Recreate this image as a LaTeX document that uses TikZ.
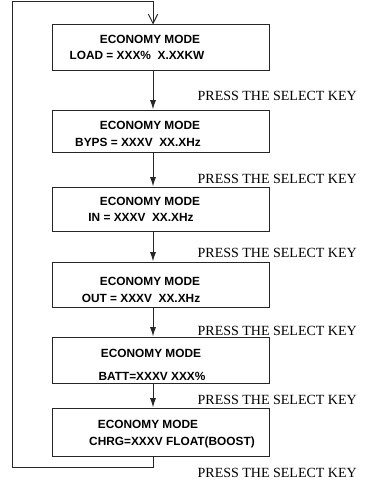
\documentclass[tikz,border=0pt]{standalone}
\usepackage{fontspec}
\setmainfont{Liberation Serif}
\setsansfont{Liberation Sans}
\usepackage{tikz}
\usetikzlibrary{arrows.meta}

\begin{document}
\begin{tikzpicture}[x=0.75pt,y=-0.75pt,
    screen/.style={rectangle, draw=black!85, line width=0.75pt, minimum width=162.75pt, inner sep=0pt},
    lcd/.style={anchor=base, inner sep=0pt, font=\fontsize{8.9}{10}\selectfont\sffamily\bfseries},
    press/.style={anchor=base east, inner sep=0pt, font=\fontsize{10.5}{12}\selectfont},
    link/.style={draw=black!85, line width=0.75pt, -{Latex[length=7pt,width=4.5pt]}},
    back/.style={draw=black!85, line width=0.75pt, -{Straight Barb[length=7pt,width=7pt]}}]
    \useasboundingbox (0,0) rectangle (368,485);

    % Screens of the display
    \node[screen, minimum height=34.5pt] (s1) at (160.5,48) {};
    \node[screen, minimum height=31.5pt] (s2) at (160.5,131) {};
    \node[screen, minimum height=33pt] (s3) at (160.5,209) {};
    \node[screen, minimum height=33.75pt] (s4) at (160.5,284.5) {};
    \node[screen, minimum height=34.5pt] (s5) at (160.5,360) {};
    \node[screen, minimum height=36pt] (s6) at (160.5,432) {};

    % Texts on the screens
    \node[lcd] (t1a) at (150,44) {ECONOMY MODE};
    \node[lcd] (t1b) at (137,60) {LOAD = XXX\%\ \ X.XXKW};
    \node[lcd] (t2a) at (150,129) {ECONOMY MODE};
    \node[lcd] (t2b) at (138,146) {BYPS = XXXV\ \ XX.XHz};
    \node[lcd] (t3a) at (150,205) {ECONOMY MODE};
    \node[lcd] (t3b) at (141,221) {IN = XXXV\ \ XX.XHz};
    \node[lcd] (t4a) at (150,285) {ECONOMY MODE};
    \node[lcd] (t4b) at (141,302) {OUT = XXXV\ \ XX.XHz};
    \node[lcd] (t5a) at (151,357) {ECONOMY MODE};
    \node[lcd] (t5b) at (152,380) {BATT=XXXV XXX\%};
    \node[lcd] (t6a) at (148,428) {ECONOMY MODE};
    \node[lcd] (t6b) at (172,445) {CHRG=XXXV FLOAT(BOOST)};

    % Key labels
    \node[press] (k1) at (357,100) {PRESS THE SELECT KEY};
    \node[press] (k2) at (357,183) {PRESS THE SELECT KEY};
    \node[press] (k3) at (357,257) {PRESS THE SELECT KEY};
    \node[press] (k4) at (357,335) {PRESS THE SELECT KEY};
    \node[press] (k5) at (357,404) {PRESS THE SELECT KEY};
    \node[press] (k6) at (357,477) {PRESS THE SELECT KEY};

    % Arrows between the screens
    \coordinate (axis) at (153,0);
    \draw[link] (s1.south -| axis) -- (s2.north -| axis);
    \draw[link] (s2.south -| axis) -- (s3.north -| axis);
    \draw[link] (s3.south -| axis) -- (s4.north -| axis);
    \draw[link] (s4.south -| axis) -- (s5.north -| axis);
    \draw[link] (s5.south -| axis) -- (s6.north -| axis);

    % Loop back to the first screen
    \coordinate (lb) at (12,467);
    \coordinate (lt) at (12,2);
    \draw[back] (s6.south -| axis) |- (lb) -- (lt) -| (s1.north -| axis);
\end{tikzpicture}
\end{document}
